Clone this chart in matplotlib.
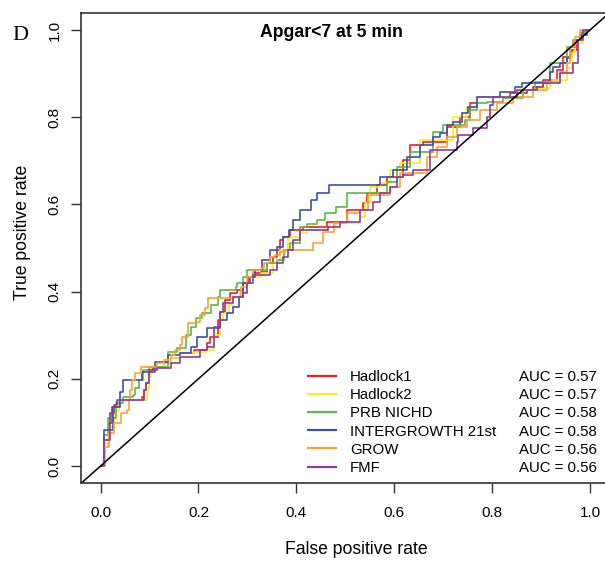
import matplotlib
matplotlib.use("Agg")
import matplotlib.pyplot as plt
from matplotlib.lines import Line2D

plt.rcParams['font.family'] = ['Liberation Sans', 'DejaVu Sans']

# ROC curves (false positive rate, true positive rate)
hadlock1_fpr = [0, 0.008, 0.017, 0.024, 0.037, 0.085, 0.088, 0.092, 0.098, 0.108,
                0.129, 0.143, 0.163, 0.19, 0.218, 0.224, 0.239, 0.245, 0.255, 0.265,
                0.279, 0.292, 0.302, 0.312, 0.327, 0.341, 0.353, 0.361, 0.367, 0.373,
                0.388, 0.414, 0.463, 0.504, 0.537, 0.545, 0.565, 0.585, 0.618, 0.633,
                0.659, 0.708, 0.735, 0.755, 0.769, 0.837, 0.863, 0.871, 0.884, 0.904,
                0.933, 0.945, 0.963, 0.973, 0.984, 0.99, 1.0]
hadlock1_tpr = [0, 0.06, 0.099, 0.135, 0.151, 0.158, 0.174, 0.19, 0.22, 0.227,
                0.236, 0.248, 0.259, 0.266, 0.282, 0.296, 0.335, 0.353, 0.381, 0.397,
                0.404, 0.42, 0.434, 0.443, 0.445, 0.466, 0.479, 0.495, 0.518, 0.525,
                0.541, 0.548, 0.56, 0.587, 0.603, 0.626, 0.644, 0.663, 0.702, 0.736,
                0.743, 0.778, 0.8, 0.833, 0.846, 0.856, 0.856, 0.862, 0.869, 0.885,
                0.908, 0.938, 0.954, 0.977, 0.995, 1.0, 1.0]

hadlock2_fpr = [0, 0.008, 0.017, 0.027, 0.037, 0.094, 0.098, 0.102, 0.129, 0.143,
                0.163, 0.19, 0.218, 0.232, 0.245, 0.251, 0.262, 0.271, 0.285, 0.3,
                0.306, 0.327, 0.353, 0.367, 0.382, 0.408, 0.422, 0.465, 0.482, 0.531,
                0.541, 0.551, 0.571, 0.592, 0.612, 0.653, 0.72, 0.749, 0.769, 0.81,
                0.863, 0.892, 0.918, 0.953, 0.963, 0.969, 0.986, 1.0]
hadlock2_tpr = [0, 0.05, 0.09, 0.125, 0.151, 0.174, 0.204, 0.227, 0.236, 0.248,
                0.259, 0.262, 0.266, 0.3, 0.335, 0.351, 0.37, 0.388, 0.4, 0.42,
                0.434, 0.443, 0.466, 0.495, 0.525, 0.534, 0.541, 0.548, 0.557, 0.571,
                0.603, 0.64, 0.649, 0.679, 0.695, 0.748, 0.8, 0.823, 0.846, 0.846,
                0.862, 0.867, 0.885, 0.913, 0.947, 0.97, 1.0, 1.0]

nichd_fpr = [0, 0.006, 0.015, 0.031, 0.045, 0.067, 0.071, 0.078, 0.086, 0.098,
             0.137, 0.157, 0.175, 0.184, 0.194, 0.208, 0.225, 0.239, 0.245, 0.276,
             0.279, 0.292, 0.3, 0.341, 0.361, 0.375, 0.388, 0.408, 0.422, 0.443,
             0.459, 0.482, 0.504, 0.557, 0.585, 0.606, 0.633, 0.68, 0.7, 0.745,
             0.755, 0.769, 0.79, 0.822, 0.863, 0.888, 0.918, 0.953, 0.965, 0.98,
             0.99, 1.0]
nichd_tpr = [0, 0.07, 0.11, 0.144, 0.158, 0.163, 0.179, 0.197, 0.22, 0.227,
             0.261, 0.27, 0.3, 0.319, 0.339, 0.351, 0.37, 0.388, 0.404, 0.411,
             0.42, 0.434, 0.45, 0.466, 0.472, 0.495, 0.511, 0.548, 0.556, 0.564,
             0.58, 0.594, 0.626, 0.626, 0.651, 0.686, 0.72, 0.766, 0.782, 0.794,
             0.817, 0.833, 0.835, 0.844, 0.862, 0.881, 0.924, 0.961, 0.977, 0.993,
             1.0, 1.0]

ig21_fpr = [0, 0.006, 0.025, 0.04, 0.045, 0.075, 0.085, 0.112, 0.137, 0.163,
            0.184, 0.198, 0.218, 0.245, 0.259, 0.271, 0.282, 0.292, 0.306, 0.316,
            0.33, 0.347, 0.361, 0.373, 0.384, 0.394, 0.408, 0.429, 0.443, 0.466,
            0.571, 0.598, 0.626, 0.653, 0.68, 0.694, 0.708, 0.72, 0.739, 0.751,
            0.769, 0.816, 0.847, 0.861, 0.918, 0.924, 0.939, 0.953, 0.959, 0.969,
            0.98, 0.994, 1.0]
ig21_tpr = [0, 0.083, 0.135, 0.17, 0.197, 0.197, 0.216, 0.238, 0.255, 0.259,
            0.273, 0.296, 0.316, 0.335, 0.351, 0.365, 0.388, 0.42, 0.434, 0.45,
            0.472, 0.495, 0.502, 0.525, 0.541, 0.564, 0.587, 0.61, 0.626, 0.645,
            0.663, 0.679, 0.709, 0.736, 0.755, 0.764, 0.782, 0.789, 0.81, 0.823,
            0.846, 0.858, 0.869, 0.878, 0.904, 0.915, 0.924, 0.936, 0.961, 0.977,
            0.989, 1.0, 1.0]

grow_fpr = [0, 0.01, 0.017, 0.027, 0.041, 0.055, 0.058, 0.061, 0.065, 0.071,
            0.082, 0.116, 0.129, 0.143, 0.153, 0.163, 0.167, 0.178, 0.198, 0.204,
            0.214, 0.22, 0.271, 0.286, 0.3, 0.312, 0.327, 0.333, 0.347, 0.357,
            0.367, 0.376, 0.435, 0.455, 0.476, 0.504, 0.531, 0.547, 0.592, 0.612,
            0.663, 0.667, 0.688, 0.708, 0.729, 0.749, 0.776, 0.81, 0.843, 0.884,
            0.912, 0.939, 0.953, 0.959, 0.969, 0.98, 1.0]
grow_tpr = [0, 0.044, 0.076, 0.099, 0.122, 0.128, 0.151, 0.174, 0.197, 0.213,
            0.227, 0.236, 0.243, 0.255, 0.266, 0.278, 0.296, 0.328, 0.33, 0.346,
            0.362, 0.385, 0.388, 0.411, 0.434, 0.45, 0.454, 0.466, 0.479, 0.485,
            0.49, 0.495, 0.511, 0.537, 0.557, 0.58, 0.587, 0.622, 0.64, 0.672,
            0.672, 0.709, 0.732, 0.755, 0.778, 0.794, 0.817, 0.833, 0.846, 0.862,
            0.881, 0.904, 0.924, 0.961, 0.984, 1.0, 1.0]

fmf_fpr = [0, 0.008, 0.02, 0.027, 0.034, 0.088, 0.092, 0.098, 0.116, 0.143,
           0.163, 0.204, 0.218, 0.231, 0.245, 0.251, 0.271, 0.292, 0.3, 0.312,
           0.347, 0.36, 0.373, 0.382, 0.394, 0.408, 0.465, 0.49, 0.531, 0.557,
           0.571, 0.592, 0.606, 0.618, 0.639, 0.673, 0.729, 0.731, 0.761, 0.79,
           0.796, 0.802, 0.851, 0.892, 0.904, 0.939, 0.965, 0.976, 0.986, 1.0]
fmf_tpr = [0, 0.06, 0.122, 0.14, 0.151, 0.174, 0.19, 0.22, 0.225, 0.236,
           0.25, 0.266, 0.273, 0.319, 0.353, 0.374, 0.388, 0.397, 0.42, 0.438,
           0.45, 0.465, 0.479, 0.495, 0.518, 0.541, 0.548, 0.56, 0.587, 0.606,
           0.626, 0.64, 0.663, 0.667, 0.679, 0.725, 0.743, 0.759, 0.775, 0.8,
           0.828, 0.846, 0.862, 0.869, 0.878, 0.901, 0.924, 0.977, 1.0, 1.0]

models = ["Hadlock1", "Hadlock2", "PRB NICHD", "INTERGROWTH 21st", "GROW", "FMF"]
auc = [0.57, 0.57, 0.58, 0.58, 0.56, 0.56]
colors = ["#F21C1C", "#F5EE1E", "#5CB947", "#3D52A9", "#FFA033", "#8E3D9E"]
curves = [(hadlock1_fpr, hadlock1_tpr), (hadlock2_fpr, hadlock2_tpr),
          (nichd_fpr, nichd_tpr), (ig21_fpr, ig21_tpr),
          (grow_fpr, grow_tpr), (fmf_fpr, fmf_tpr)]
ticks = [0.0, 0.2, 0.4, 0.6, 0.8, 1.0]

W, H = 605, 563
fig = plt.figure(figsize=(W / 100, H / 100), dpi=100)
ax = fig.add_axes([81 / W, 79.6 / H, 528.6 / W, 470.8 / H])

for (fpr, tpr), c in zip(curves, colors):
    ax.plot(fpr, tpr, color=c, lw=1.2, drawstyle="steps-post")
ax.axline((0, 0), slope=1, color="black", lw=1.1)

ax.set_xlim(-0.04, 1.04)
ax.set_ylim(-0.04, 1.04)
ax.set_xticks(ticks)
ax.set_yticks(ticks)
ax.set_xticklabels(["%.1f" % t for t in ticks])
ax.set_yticklabels(["%.1f" % t for t in ticks], rotation=90, va="center")
ax.tick_params(axis="both", length=7, width=1, color="#333333", labelsize=11)
ax.tick_params(axis="x", pad=9)
ax.tick_params(axis="y", pad=7)
for s in ax.spines.values():
    s.set_linewidth(1.2)
    s.set_color("#333333")

ax.text(0.474, 0.957, "Apgar<7 at 5 min", transform=ax.transAxes,
        ha="center", va="center", fontsize=12.7, fontweight="bold")
fig.text(356 / W, 1 - 549 / H, "False positive rate", ha="center", va="center",
         fontsize=12.7)
fig.text(23 / W, 1 - 232 / H, "True positive rate", ha="center", va="center",
         fontsize=12.7, rotation=90)
fig.text(20 / W, 1 - 35.5 / H, "D", ha="center", va="center", fontsize=16,
         family="Liberation Serif")

handles = [Line2D([], [], color=c, lw=1.6) for c in colors]
leg1 = ax.legend(handles, models, loc="lower left",
                 bbox_to_anchor=(0.4294, 0.018), frameon=False, fontsize=10.8,
                 handlelength=1.9, handletextpad=0.9, labelspacing=0.28,
                 borderpad=0, borderaxespad=0)
ax.add_artist(leg1)
blank = [Line2D([], [], lw=0) for _ in models]
ax.legend(blank, ["AUC = %.2f" % a for a in auc], loc="lower left",
          bbox_to_anchor=(0.8286, 0.018), frameon=False, fontsize=10.8,
          handlelength=0, handletextpad=0, labelspacing=0.28,
          borderpad=0, borderaxespad=0)

fig.savefig("out.png", dpi=100)
